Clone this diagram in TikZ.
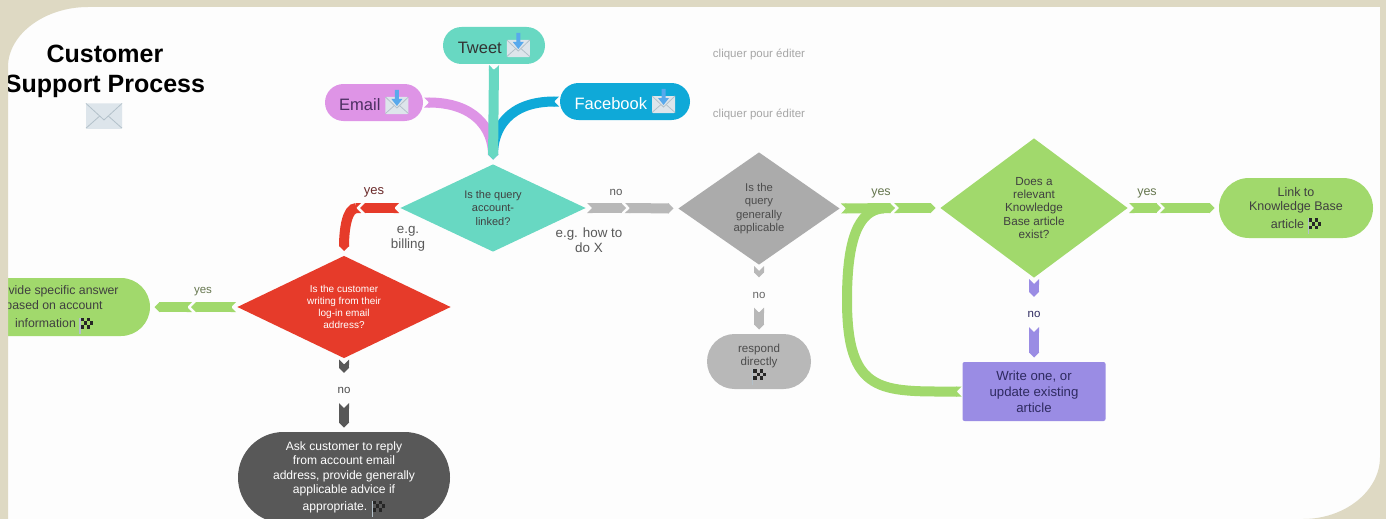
\documentclass[tikz,border=0pt]{standalone}
\usepackage{fontspec}
\setmainfont{Liberation Sans}
\usetikzlibrary{arrows.meta,shapes.geometric,shapes.misc}
\definecolor{tealbox}{HTML}{68D8C2}
\definecolor{pinkbox}{HTML}{DE94E6}
\definecolor{bluebox}{HTML}{0FA9D8}
\definecolor{redbox}{HTML}{E63B2A}
\definecolor{greenbox}{HTML}{A1D96C}
\definecolor{purplebox}{HTML}{9A8CE4}
\definecolor{greybox}{HTML}{ABABAB}
\definecolor{lightbox}{HTML}{B8B8B8}
\definecolor{darkbox}{HTML}{585858}
\definecolor{panel}{HTML}{FDFDFD}
\definecolor{frame}{HTML}{DED9C3}
\definecolor{envfill}{HTML}{DDE5EB}
\definecolor{envline}{HTML}{B3C1CA}
\definecolor{arrowblue}{HTML}{58A9EC}
\definecolor{pinktext}{HTML}{4A2E60}
\definecolor{redtext}{HTML}{6B2A2A}
\definecolor{greentext}{HTML}{66774F}
\definecolor{purpletext}{HTML}{2E2A60}
\pgfdeclarearrow{
  name=Notch,
  setup code={\pgfarrowssettipend{0pt}\pgfarrowssetlineend{-4.5pt}\pgfarrowssetbackend{-5.5pt}},
  drawing code={
    \pgfpathmoveto{\pgfqpoint{0pt}{5pt}}
    \pgfpathlineto{\pgfqpoint{-5pt}{0pt}}
    \pgfpathlineto{\pgfqpoint{0pt}{-5pt}}
    \pgfpathlineto{\pgfqpoint{-5.5pt}{-5pt}}
    \pgfpathlineto{\pgfqpoint{-5.5pt}{5pt}}
    \pgfpathclose
    \pgfusepathqfill},
  defaults={}
}
\pgfdeclarearrow{
  name=Point,
  setup code={\pgfarrowssettipend{0pt}\pgfarrowssetlineend{-4.5pt}\pgfarrowssetbackend{-5.5pt}},
  drawing code={
    \pgfpathmoveto{\pgfqpoint{0pt}{0pt}}
    \pgfpathlineto{\pgfqpoint{-5pt}{5pt}}
    \pgfpathlineto{\pgfqpoint{-5.5pt}{5pt}}
    \pgfpathlineto{\pgfqpoint{-5.5pt}{-5pt}}
    \pgfpathlineto{\pgfqpoint{-5pt}{-5pt}}
    \pgfpathclose
    \pgfusepathqfill},
  defaults={}
}
\newcommand{\fnt}[2]{\fontsize{#1}{#2}\selectfont}
\newcommand{\mailicon}[1]{\begin{tikzpicture}[x=#1pt,y=#1pt]
    \fill[envfill,rounded corners=1pt] (0,0) rectangle (24,17);
    \draw[envline,line width=0.8pt] (0,0.5) -- (9,8.5) (24,0.5) -- (15,8.5);
    \draw[envline,line width=0.8pt] (0,17) -- (12,6) -- (24,17);
  \end{tikzpicture}}
\newcommand{\inboxicon}{\smash{\begin{tikzpicture}[x=1pt,y=1pt,baseline=4pt]
    \fill[envfill,rounded corners=1pt] (0,0) rectangle (23,17);
    \draw[envline,line width=0.8pt] (0,0.5) -- (9,8.5) (23,0.5) -- (14,8.5);
    \draw[envline,line width=0.8pt] (0,17) -- (11.5,6) -- (23,17);
    \fill[arrowblue] (9.5,24) -- (13.5,24) -- (13.5,15) -- (17,15) -- (11.5,8) -- (6,15) -- (9.5,15) -- cycle;
  \end{tikzpicture}}}
\newcommand{\flagicon}{\smash{\begin{tikzpicture}[x=1pt,y=1pt,baseline=4pt]
    \fill[envline] (0,-2) rectangle (1.2,14);
    \foreach \cx/\cy in {0/0, 2/0, 1/1, 3/1, 0/2, 2/2} {
      \fill[black!85] (1.2+3.1*\cx,3+3.7*\cy) rectangle +(3.1,3.7);
    }
  \end{tikzpicture}}}
\tikzset{
  diam/.style={diamond,fill=#1,inner sep=0pt,outer sep=1pt,align=center},
  pill/.style={rounded rectangle,fill=#1,inner sep=0pt,outer sep=1pt,align=center},
  source/.style={pill=#1,minimum height=37pt,text height=15pt,text depth=0pt,font=\fnt{16.5}{18}},
  link/.style={draw=#1,line width=10pt,{Notch}-{Point}},
  tolink/.style={link=#1,shorten >=3.5pt},
  midlink/.style={link=#1,shorten >=-1pt},
  lbl/.style={inner sep=0pt,font=\fnt{11.5}{13}},
  nolbl/.style={lbl,minimum height=30pt,text height=11pt,text depth=0pt},
}
\begin{document}
\begin{tikzpicture}[x=1pt,y=-1pt]
  \useasboundingbox (0,0) rectangle (1386,519);
  % panel
  \fill[panel] (0,0) rectangle (1386,519);
  % sources
  \node[source=tealbox,minimum width=102pt,text=black!80] (tweet) at (494,45.5) {Tweet \inboxicon};
  \node[source=pinkbox,minimum width=98pt,text=pinktext] (email) at (374,102.5) {Email \inboxicon};
  \node[source=bluebox,minimum width=130pt,text=white] (facebook) at (625,101.5) {Facebook \inboxicon};
  % decisions
  \node[diam=tealbox,minimum width=186pt,minimum height=88pt,aspect=2,text=black!75,font=\fnt{11}{13.4}] (query) at (493,208) {Is the query\\account-\\linked?};
  \node[diam=redbox,minimum width=214pt,minimum height=103pt,aspect=2,text=white,font=\fnt{10}{12}] (login) at (344,307) {Is the customer\\writing from their\\log-in email\\address?};
  \node[diam=greybox,minimum width=162pt,minimum height=113pt,aspect=1.4,text=black!70,font=\fnt{11.3}{13.4}] (general) at (759,208.5) {Is the\\query\\generally\\applicable};
  \node[diam=greenbox,minimum width=188pt,minimum height=140pt,aspect=1.3,text=black!75,font=\fnt{11.7}{13.4}] (exist) at (1034,208) {Does a\\relevant\\Knowledge\\Base article\\exist?};
  % ends
  \node[pill=greenbox,minimum width=192pt,minimum height=58pt,text=black!75,font=\fnt{12.3}{14.5}] (answer) at (54,307) {Provide specific answer\\based on account\\[4pt]information \flagicon};
  \node[pill=darkbox,minimum width=212pt,minimum height=91pt,text=white,font=\fnt{12.1}{14.3}] (reply) at (344,477.5) {Ask customer to reply\\from account email\\address, provide generally\\applicable advice if\\[3pt]appropriate. \flagicon};
  \node[pill=lightbox,minimum width=104pt,minimum height=55pt,text=black!70,font=\fnt{11.6}{13.4}] (direct) at (759,361.5) {respond\\directly\\\flagicon};
  \node[pill=greenbox,minimum width=154pt,minimum height=60pt,text=black!75,font=\fnt{12.5}{14.5}] (kblink) at (1296,208) {Link to\\Knowledge Base\\[3pt]article \flagicon};
  \node[rectangle,rounded corners=2pt,fill=purplebox,minimum width=143pt,minimum height=59pt,inner sep=0pt,outer sep=1pt,align=center,text=purpletext,font=\fnt{13.2}{16}] (write) at (1034,391.5) {Write one, or\\update existing\\article};
  % labels with two link pieces
  \node[nolbl,text=black!70] (loginno) at (344,388) {no};
  \node[nolbl,text=black!60] (generalno) at (759,292.5) {no};
  \node[nolbl,text=purpletext] (existno) at (1034,312) {no};
  % labels over the links
  \node[lbl,text=redtext,font=\fnt{13}{15}] (queryyes) at (374,192) {yes};
  \node[lbl,text=black!65] (queryno) at (616,192) {no};
  \node[lbl,text=greentext] (loginyes) at (203,292) {yes};
  \node[lbl,text=greentext,font=\fnt{12.5}{15}] (generalyes) at (881,193) {yes};
  \node[lbl,text=greentext,font=\fnt{12.5}{15}] (existyes) at (1147,193) {yes};
  \node[text=black!65,inner sep=0pt,align=center,font=\fnt{13.4}{15}] (billing) at (408,238.5) {e.g.\\billing};
  \node[text=black!65,inner sep=0pt,align=center,font=\fnt{13.4}{15}] (howto) at (589,240.5) {e.g. how to\\do X};
  \node[text=black!35,inner sep=0pt,font=\fnt{11.5}{13}] (edita) at (759,54.5) {cliquer pour éditer};
  \node[text=black!35,inner sep=0pt,font=\fnt{11.5}{13}] (editb) at (759,114.5) {cliquer pour éditer};
  % title
  \node[inner sep=0pt,align=center,font=\bfseries\fnt{25}{30}] (title) at (105,71) {Customer\\Support Process};
  \node[inner sep=0pt] (mail) at (104,116) {\mailicon{1.5}};
  % joints of the two piece links
  \coordinate (querymida) at (361,208);
  \coordinate (querymidb) at (625,208);
  \coordinate (loginmid) at (192,307);
  \coordinate (generalmid) at (894,208);
  \coordinate (existmid) at (1160,208);
  \coordinate (writeend) at (888,208);
  % sources to query
  \draw[tolink=pinkbox] (email.east) .. controls +(50,0) and +(0,-35) .. (query.north);
  \draw[tolink=bluebox] (facebook.west) .. controls +(-50,0) and +(0,-35) .. (query.north);
  \draw[tolink=tealbox] (tweet.south) -- (query.north);
  % query
  \draw[midlink=redbox] (query.west) -- (querymida);
  \draw[tolink=redbox] (querymida) .. controls +(-14,0) and +(0,-25) .. (login.north);
  \draw[midlink=lightbox] (query.east) -- (querymidb);
  \draw[tolink=lightbox] (querymidb) -- (general.west);
  % login
  \draw[midlink=greenbox] (login.west) -- (loginmid);
  \draw[tolink=greenbox] (loginmid) -- (answer.east);
  \draw[link=darkbox] (login.south) -- (loginno);
  \draw[tolink=darkbox] (loginno) -- (reply.north);
  % general
  \draw[link=greenbox] (write.west) .. controls +(-80,0) and +(0,95) .. (847,300) .. controls +(0,-60) and +(-30,2) .. (writeend);
  \draw[midlink=greenbox] (general.east) -- (generalmid);
  \draw[tolink=greenbox] (generalmid) -- (exist.west);
  \draw[link=lightbox] (general.south) -- (generalno);
  \draw[tolink=lightbox] (generalno) -- (direct.north);
  % exist
  \draw[midlink=greenbox] (exist.east) -- (existmid);
  \draw[tolink=greenbox] (existmid) -- (kblink.west);
  \draw[link=purplebox] (exist.south) -- (existno);
  \draw[tolink=purplebox] (existno) -- (write.north);
  % frame
  \fill[frame,even odd rule] (0,0) rectangle (1386,519)
    (8,67) .. controls (8,34) and (45,7) .. (88,7) -- (1380,7) -- (1380,457)
    .. controls (1380,491) and (1345,519) .. (1303,519) -- (8,519) -- cycle;
\end{tikzpicture}
\end{document}
